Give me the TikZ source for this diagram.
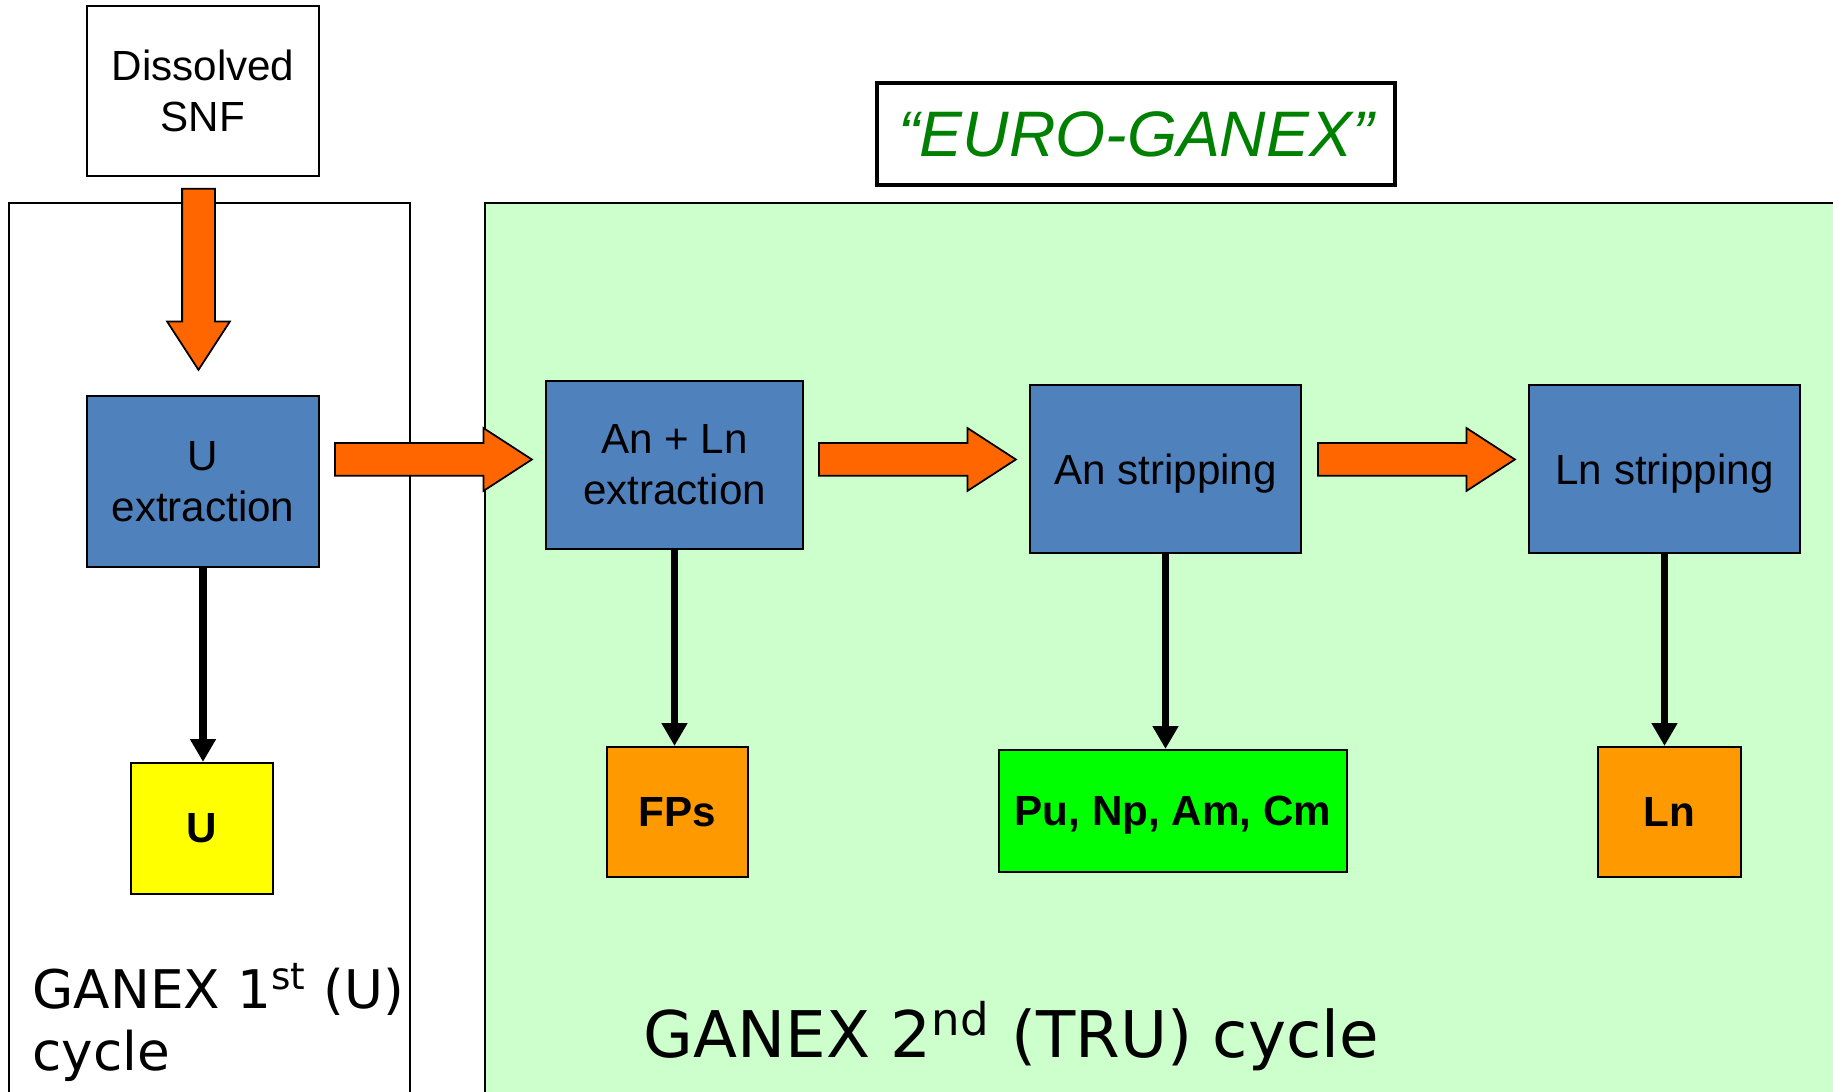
\documentclass[tikz,border=0pt]{standalone}
\usepackage{fontspec}
\setmainfont{Liberation Sans}
\newfontfamily\verdana{DejaVu Sans}
\usetikzlibrary{arrows.meta,shapes.arrows}

\definecolor{stepblue}{RGB}{79,129,189}
\definecolor{trugreen}{RGB}{204,255,204}
\definecolor{feedorange}{RGB}{255,102,0}
\definecolor{fporange}{RGB}{255,153,0}
\definecolor{uyellow}{RGB}{255,255,0}
\definecolor{actgreen}{RGB}{0,255,0}
\definecolor{titlegreen}{RGB}{0,128,0}

\begin{document}
\begin{tikzpicture}[
    every node/.style={inner sep=0pt, font=\fontsize{12}{14.4}\selectfont},
    stepbox/.style={draw, line width=0.6pt, fill=stepblue, align=center, minimum width=#1, minimum height=1.68cm},
    outbox/.style={draw, line width=0.6pt, font=\fontsize{12}{14.4}\selectfont\bfseries, text depth=0pt, minimum height=1.30cm},
    flowarrow/.style={single arrow, draw, line width=0.5pt, fill=feedorange, inner ysep=0.155cm, inner xsep=0pt,
        single arrow head extend=0.15cm, single arrow tip angle=66, anchor=tail},
    dropline/.style={line width=2pt, -{Triangle[length=6.5pt,width=7pt]}}
]
    \useasboundingbox (0,0) rectangle (18.33,10.92);

    % the two cycles
    \draw[line width=0.5pt] (0.09,-0.5) rectangle (4.10,8.89);
    \draw[line width=0.5pt, fill=trugreen] (4.85,-0.5) rectangle (18.8,8.89);

    \node[draw, line width=0.6pt, align=center, minimum width=2.32cm, minimum height=1.70cm] (snf) at (2.03,10.01) {Dissolved\\SNF};
    \node[draw, line width=1.2pt, minimum width=5.18cm, minimum height=1.02cm, text=titlegreen,
        font=\fontsize{18.3}{20}\selectfont\itshape] (euro) at (11.36,9.58) {“EURO-GANEX”};

    % process steps
    \node[stepbox=2.32cm, minimum height=1.71cm] (uext) at (2.03,6.105) {U\\extraction};
    \node[stepbox=2.57cm] (anln) at (6.745,6.27) {An + Ln\\extraction};
    \node[stepbox=2.71cm, text depth=0pt] (anstr) at (11.655,6.23) {An stripping};
    \node[stepbox=2.71cm, text depth=0pt] (lnstr) at (16.645,6.23) {Ln stripping};

    % products
    \node[outbox, fill=uyellow, minimum width=1.42cm, minimum height=1.31cm] (ubox) at (2.02,2.635) {U};
    \node[outbox, fill=fporange, minimum width=1.41cm] (fps) at (6.775,2.80) {FPs};
    \node[outbox, fill=actgreen, minimum width=3.48cm, minimum height=1.22cm] (act) at (11.73,2.81) {Pu, Np, Am, Cm};
    \node[outbox, fill=fporange, minimum width=1.43cm] (lnout) at (16.695,2.80) {Ln};

    % feed arrows
    \node[flowarrow, minimum height=1.81cm, rotate=-90] (feed) at (1.985,9.04) {};
    \node[flowarrow, minimum height=1.97cm] (toanln) at (3.34,6.325) {};
    \node[flowarrow, minimum height=1.97cm] (toanstr) at (8.18,6.325) {};
    \node[flowarrow, minimum height=1.97cm] (tolnstr) at (13.17,6.325) {};

    \draw[dropline] (uext.south) -- (uext.south |- ubox.north);
    \draw[dropline] (anln.south) -- (anln.south |- fps.north);
    \draw[dropline] (anstr.south) -- (anstr.south |- act.north);
    \draw[dropline] (lnstr.south) -- (lnstr.south |- lnout.north);

    \node[anchor=base west, align=left, font=\verdana\fontsize{15.15}{17.9}\selectfont] (cycle1) at (0.32,0.21) {GANEX 1\textsuperscript{st} (U)\\cycle};
    \node[anchor=base west, font=\verdana\fontsize{18.3}{22}\selectfont] (cycle2) at (6.43,0.34) {GANEX 2\textsuperscript{nd} (TRU) cycle};
\end{tikzpicture}
\end{document}
